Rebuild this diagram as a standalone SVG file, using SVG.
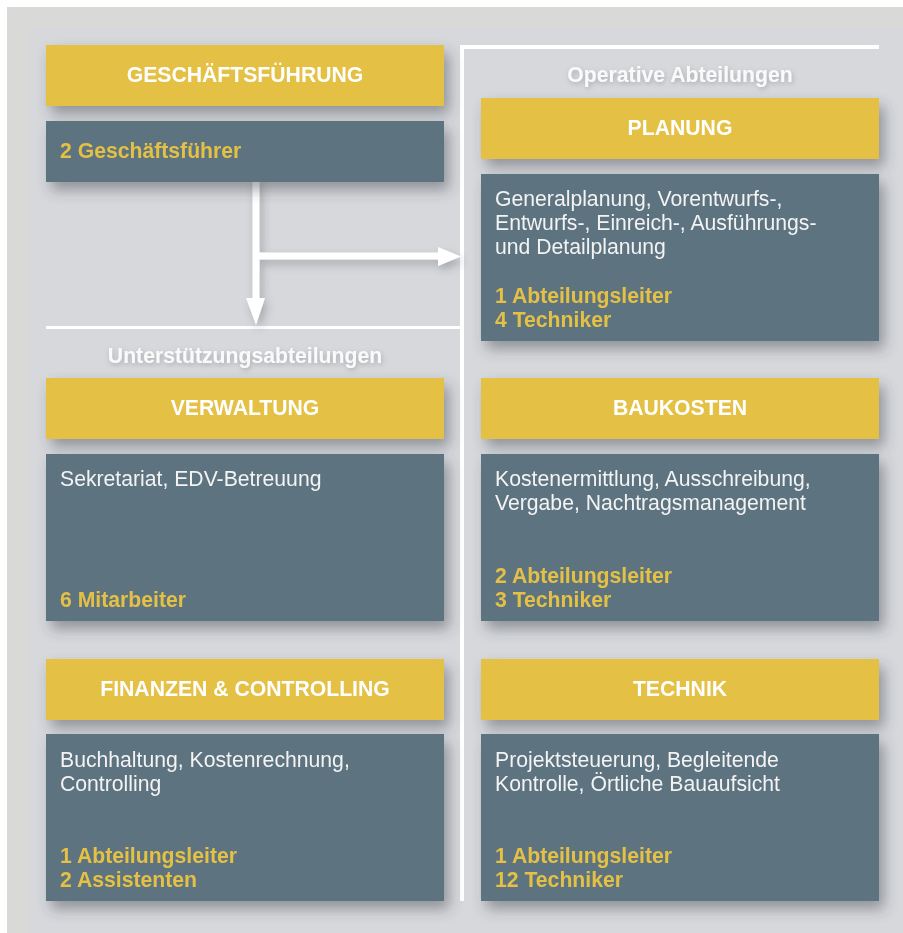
<svg xmlns="http://www.w3.org/2000/svg" width="903" height="933" viewBox="0 0 903 933">
  <defs>
    <filter id="shadow" x="-10%" y="-20%" width="125%" height="160%">
      <feDropShadow dx="5" dy="8" stdDeviation="7" flood-color="#3b414a" flood-opacity="0.45"/>
    </filter>
    <filter id="softShadow" x="-30%" y="-30%" width="170%" height="170%">
      <feDropShadow dx="3" dy="5" stdDeviation="4" flood-color="#3b414a" flood-opacity="0.3"/>
    </filter>
    <filter id="textShadow" x="-10%" y="-50%" width="120%" height="200%">
      <feDropShadow dx="1" dy="2" stdDeviation="2.5" flood-color="#6b717a" flood-opacity="0.45"/>
    </filter>
    <style>
      .head { fill: #e4c144; }
      .body { fill: #5d7380; }
      .htxt { font-family: "Liberation Sans", Arial, sans-serif; font-weight: bold; font-size: 21.2px; fill: #ffffff; text-anchor: middle; }
      .sect { font-family: "Liberation Sans", Arial, sans-serif; font-weight: bold; font-size: 21.2px; fill: #fafafa; text-anchor: middle; }
      .btxt { font-family: "Liberation Sans", Arial, sans-serif; font-size: 21.2px; fill: #f3f3f3; }
      .ytxt { font-family: "Liberation Sans", Arial, sans-serif; font-weight: bold; font-size: 21.2px; fill: #e4c144; }
      .rule { fill: #ffffff; }
      .conn { stroke: #ffffff; stroke-width: 7; fill: none; }
    </style>
  </defs>

  <!-- background -->
  <rect x="0" y="0" width="903" height="933" fill="#ffffff"/>
  <rect x="7" y="7" width="896" height="926" fill="#d9d9d7"/>
  <rect x="30" y="28" width="873" height="905" fill="#d7d8db"/>

  <!-- section dividers and titles -->
  <g id="dividers">
    <rect class="rule" x="460" y="45" width="419" height="4"/>
    <rect class="rule" x="460" y="45" width="4" height="856"/>
    <rect class="rule" x="46" y="326" width="418" height="3"/>
    <text class="sect" x="680" y="82" filter="url(#textShadow)">Operative Abteilungen</text>
    <text class="sect" x="245" y="363" filter="url(#textShadow)">Unterstützungsabteilungen</text>
  </g>

  <!-- connectors -->
  <g id="connectors" filter="url(#softShadow)">
    <path class="conn" d="M256 180 V300" stroke-linecap="round"/>
    <polygon fill="#ffffff" points="246,298 265,298 256,325"/>
    <path class="conn" d="M259 256 H440"/>
    <polygon fill="#ffffff" points="438,247 438,266 461,256.5"/>
  </g>

  <!-- Geschäftsführung -->
  <g id="geschaeftsfuehrung" filter="url(#shadow)">
    <rect class="head" x="46" y="45" width="398" height="61"/>
    <text class="htxt" x="245" y="82">GESCHÄFTSFÜHRUNG</text>
    <rect class="body" x="46" y="121" width="398" height="61"/>
    <text class="ytxt" x="60" y="158">2 Geschäftsführer</text>
  </g>

  <!-- Planung -->
  <g id="planung" filter="url(#shadow)">
    <rect class="head" x="481" y="98" width="398" height="61"/>
    <text class="htxt" x="680" y="135">PLANUNG</text>
    <rect class="body" x="481" y="174" width="398" height="167"/>
    <text class="btxt" x="495" y="206">Generalplanung, Vorentwurfs-,</text>
    <text class="btxt" x="495" y="230">Entwurfs-, Einreich-, Ausführungs-</text>
    <text class="btxt" x="495" y="254">und Detailplanung</text>
    <text class="ytxt" x="495" y="303">1 Abteilungsleiter</text>
    <text class="ytxt" x="495" y="327">4 Techniker</text>
  </g>

  <!-- Verwaltung -->
  <g id="verwaltung" filter="url(#shadow)">
    <rect class="head" x="46" y="378" width="398" height="61"/>
    <text class="htxt" x="245" y="415">VERWALTUNG</text>
    <rect class="body" x="46" y="454" width="398" height="167"/>
    <text class="btxt" x="60" y="486">Sekretariat, EDV-Betreuung</text>
    <text class="ytxt" x="60" y="607">6 Mitarbeiter</text>
  </g>

  <!-- Baukosten -->
  <g id="baukosten" filter="url(#shadow)">
    <rect class="head" x="481" y="378" width="398" height="61"/>
    <text class="htxt" x="680" y="415">BAUKOSTEN</text>
    <rect class="body" x="481" y="454" width="398" height="167"/>
    <text class="btxt" x="495" y="486">Kostenermittlung, Ausschreibung,</text>
    <text class="btxt" x="495" y="510">Vergabe, Nachtragsmanagement</text>
    <text class="ytxt" x="495" y="583">2 Abteilungsleiter</text>
    <text class="ytxt" x="495" y="607">3 Techniker</text>
  </g>

  <!-- Finanzen & Controlling -->
  <g id="finanzen" filter="url(#shadow)">
    <rect class="head" x="46" y="659" width="398" height="61"/>
    <text class="htxt" x="245" y="696">FINANZEN &amp; CONTROLLING</text>
    <rect class="body" x="46" y="734" width="398" height="167"/>
    <text class="btxt" x="60" y="767">Buchhaltung, Kostenrechnung,</text>
    <text class="btxt" x="60" y="791">Controlling</text>
    <text class="ytxt" x="60" y="863">1 Abteilungsleiter</text>
    <text class="ytxt" x="60" y="887">2 Assistenten</text>
  </g>

  <!-- Technik -->
  <g id="technik" filter="url(#shadow)">
    <rect class="head" x="481" y="659" width="398" height="61"/>
    <text class="htxt" x="680" y="696">TECHNIK</text>
    <rect class="body" x="481" y="734" width="398" height="167"/>
    <text class="btxt" x="495" y="767">Projektsteuerung, Begleitende</text>
    <text class="btxt" x="495" y="791">Kontrolle, Örtliche Bauaufsicht</text>
    <text class="ytxt" x="495" y="863">1 Abteilungsleiter</text>
    <text class="ytxt" x="495" y="887">12 Techniker</text>
  </g>
</svg>
